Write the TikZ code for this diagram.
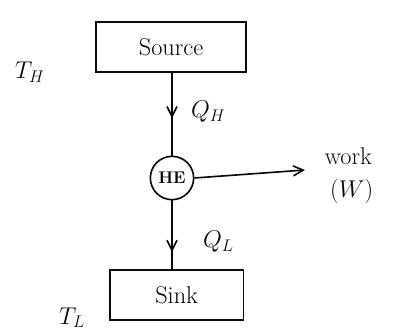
\documentclass[tikz,border=0pt]{standalone}
\usepackage{tikz}
\usetikzlibrary{arrows.meta, positioning, decorations.markings}
\usepackage{amsmath, amssymb}
\usepackage{xcolor}
\definecolor{inkblack}{RGB}{10, 10, 10}

\begin{document}
\begin{tikzpicture}[
        reservoir/.style={rectangle, draw=inkblack, line width=1.4pt, minimum width=4.5cm, minimum height=1.5cm, font=\huge},
        engine/.style={circle, draw=inkblack, line width=1.4pt, minimum size=1.3cm, inner sep=0pt, font=\Large\bfseries},
        lbl/.style={font=\huge, inkblack},
        arr/.style={-{Straight Barb[length=3mm, width=3mm]}, line width=1.4pt, inkblack},
        midarr/.style={line width=1.4pt, inkblack, decoration={markings, mark=at position #1 with {\arrow{Straight Barb[length=3mm, width=3mm]}}}, postaction={decorate}}
      ]
        \useasboundingbox (0,0) rectangle (12.33,9.93);

        \node[reservoir] (SRC) at (5.13, 8.52) {Source};
        \node[engine] (HE) at (5.16, 4.59) {HE};
        \node[reservoir, minimum width=4cm] (SNK) at (5.3, 1.08) {Sink};
        \coordinate (W) at (9.15, 4.83);

        \draw[midarr=0.55] (SRC.south -| HE) -- (HE.north);
        \draw[midarr=0.75] (HE.south) -- (SNK.north -| HE);
        \draw[arr] (HE.east) -- (W);

        \node[lbl] (TH) at (0.9, 7.77) {$T_H$};
        \node[lbl] (QH) at (6.25, 6.57) {$Q_H$};
        \node[lbl] (QL) at (6.55, 2.67) {$Q_L$};
        \node[lbl] (TL) at (2.16, 0.4) {$T_L$};
        \node[lbl] (WK) at (10.45, 5.25) {work};
        \node[lbl] (WW) at (10.55, 4.2) {$(W)$};
      \end{tikzpicture}
\end{document}
